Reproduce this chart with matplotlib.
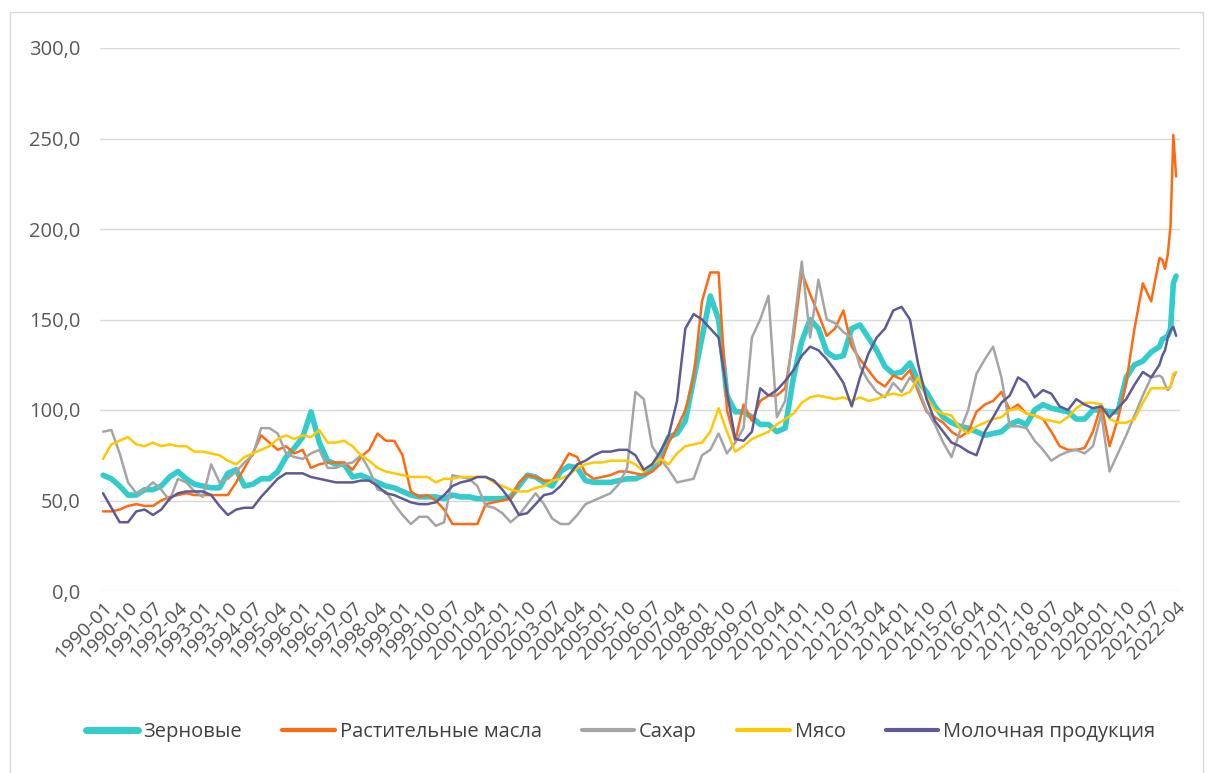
import matplotlib
matplotlib.use("Agg")
import matplotlib.pyplot as plt
from matplotlib.patches import Rectangle

# ---------------- data (FAO sub-indices) ----------------
# quarterly points 1990-01 .. 2021-10, then monthly 2021-11 .. 2022-04
q_years = list(range(1990, 2022))
q_months = [1, 4, 7, 10]
tail_dates = ["2021-11", "2021-12", "2022-01", "2022-02", "2022-03", "2022-04"]

cereals = [
    64, 62, 58, 53,  53, 56, 56, 58,  63, 66, 62, 59,  58, 57, 57, 65,
    67, 58, 59, 62,  62, 66, 74, 79,  85, 99, 82, 72,  70, 70, 63, 64,
    62, 60, 58, 57,  55, 53, 52, 52,  52, 51, 53, 52,  52, 51, 51, 51,
    51, 52, 58, 64,  63, 60, 58, 66,  69, 68, 61, 60,  60, 60, 61, 62,
    62, 64, 67, 75,  85, 87, 94, 117, 140, 163, 150, 108, 99, 99, 96, 92,
    92, 88, 90, 118, 138, 150, 145, 132, 129, 130, 145, 147, 140, 133, 124, 120,
    121, 126, 116, 110, 102, 96, 93, 91,  90, 88, 86, 87,  88, 92, 94, 92,
    100, 103, 101, 100, 99, 95, 95, 100, 100, 99, 99, 118, 125, 127, 132, 135,
    139, 140, 141, 145, 170, 174,
]
oils = [
    44, 44, 45, 47,  48, 47, 47, 50,  52, 53, 54, 53,  53, 53, 53, 53,
    60, 68, 76, 86,  82, 78, 80, 76,  78, 68, 70, 71,  71, 71, 67, 74,
    78, 87, 83, 83,  75, 55, 52, 53,  50, 45, 37, 37,  37, 37, 48, 49,
    50, 51, 60, 64,  63, 61, 61, 68,  76, 74, 65, 62,  63, 64, 66, 66,
    65, 64, 66, 70,  82, 90, 100, 118, 160, 176, 176, 100, 83, 103, 94, 105,
    108, 108, 112, 140, 176, 164, 153, 141, 145, 155, 135, 128, 122, 116, 113, 119,
    117, 122, 110, 99, 96, 93, 88, 85,  88, 99, 103, 105, 110, 100, 103, 98,
    97, 95, 88, 80,  78, 78, 79, 88,  103, 80, 95, 115, 145, 170, 160, 184,
    183, 178, 186, 202, 252, 229,
]
sugar = [
    88, 89, 76, 60,  54, 56, 60, 56,  50, 62, 60, 55,  52, 70, 60, 62,
    66, 71, 75, 90,  90, 87, 76, 74,  73, 76, 78, 68,  68, 70, 71, 75,
    67, 56, 55, 48,  42, 37, 41, 41,  36, 38, 64, 63,  62, 58, 47, 46,
    43, 38, 42, 48,  54, 48, 40, 37,  37, 42, 48, 50,  52, 54, 59, 68,
    110, 106, 80, 73, 67, 60, 61, 62,  75, 78, 87, 76,  82, 90, 140, 150,
    163, 96, 105, 145, 182, 140, 172, 150, 148, 143, 140, 124, 116, 110, 107, 115,
    110, 118, 112, 100, 92, 82, 74, 88, 100, 120, 128, 135, 118, 91, 91, 90,
    83, 78, 72, 75,  77, 78, 76, 80,  98, 66, 76, 86,  97, 108, 118, 119,
    118, 114, 111, 113, 118, 121,
]
meat = [
    73, 81, 83, 85,  81, 80, 82, 80,  81, 80, 80, 77,  77, 76, 75, 72,
    70, 74, 76, 78,  80, 84, 86, 84,  86, 85, 89, 82,  82, 83, 80, 75,
    72, 68, 66, 65,  64, 63, 63, 63,  60, 62, 62, 63,  63, 63, 63, 60,
    58, 56, 55, 55,  57, 58, 61, 62,  64, 68, 70, 71,  71, 72, 72, 72,
    70, 66, 70, 73,  70, 76, 80, 81,  82, 88, 101, 88, 77, 80, 84, 86,
    88, 92, 95, 98,  104, 107, 108, 107, 106, 107, 105, 107, 105, 106, 108, 109,
    108, 110, 118, 107, 100, 98, 97, 90, 87, 91, 93, 95,  96, 100, 101, 98,
    97, 95, 94, 93,  96, 101, 104, 104, 103, 95, 93, 93,  95, 104, 112, 112,
    112, 112, 112, 113, 120, 121,
]
dairy = [
    54, 46, 38, 38,  44, 45, 42, 45,  51, 54, 55, 55,  55, 53, 47, 42,
    45, 46, 46, 52,  57, 62, 65, 65,  65, 63, 62, 61,  60, 60, 60, 61,
    61, 58, 54, 53,  51, 49, 48, 48,  49, 53, 58, 60,  61, 63, 63, 61,
    56, 50, 42, 43,  48, 53, 54, 58,  64, 70, 72, 75,  77, 77, 78, 78,
    75, 67, 70, 77,  86, 105, 145, 153, 150, 145, 140, 110, 84, 83, 88, 112,
    108, 111, 116, 122, 130, 135, 133, 128, 122, 115, 102, 118, 131, 140, 145, 155,
    157, 150, 125, 106, 94, 88, 82, 80,  77, 75, 88, 96,  104, 108, 118, 115,
    107, 111, 109, 102, 100, 106, 103, 101, 102, 96, 101, 106, 114, 121, 118, 125,
    130, 133, 140, 144, 146, 141,
]

series_names = ["Зерновые", "Растительные масла", "Сахар", "Мясо", "Молочная продукция"]

tick_labels = [
    "1990-01", "1990-10", "1991-07", "1992-04", "1993-01", "1993-10", "1994-07",
    "1995-04", "1996-01", "1996-10", "1997-07", "1998-04", "1999-01", "1999-10",
    "2000-07", "2001-04", "2002-01", "2002-10", "2003-07", "2004-04", "2005-01",
    "2005-10", "2006-07", "2007-04", "2008-01", "2008-10", "2009-07", "2010-04",
    "2011-01", "2011-10", "2012-07", "2013-04", "2014-01", "2014-10", "2015-07",
    "2016-04", "2017-01", "2017-10", "2018-07", "2019-04", "2020-01", "2020-10",
    "2021-07", "2022-04",
]
y_ticks = [0, 50, 100, 150, 200, 250, 300]

# ---------------- helpers ----------------
def month_index(s):
    y, m = s.split("-")
    return (int(y) - 1990) * 12 + int(m) - 1

dates = [f"{y}-{m:02d}" for y in q_years for m in q_months] + tail_dates
xs = [month_index(d) for d in dates]
tick_pos = [month_index(t) for t in tick_labels]

plt.rcParams["font.family"] = ["Open Sans", "DejaVu Sans"]

fig = plt.figure(figsize=(12.10, 7.73), dpi=100)
fig.patches.append(Rectangle((10 / 1210, -0.01), 1193 / 1210, 1 - 12 / 773 + 0.01,
                             transform=fig.transFigure, fill=False,
                             edgecolor="#D9D9D9", linewidth=1.0))

ax = fig.add_axes([100 / 1210, 1 - 591 / 773, 1080 / 1210, (591 - 48) / 773])

colors = ["#33CCCC", "#FF6A10", "#A5A5A5", "#FFC800", "#5E5A96"]
widths = [4.0, 1.8, 1.8, 1.8, 1.8]
data = [cereals, oils, sugar, meat, dairy]
for vals, name, c, w in zip(data, series_names, colors, widths):
    ax.plot(xs, vals, color=c, linewidth=w, label=name,
            solid_joinstyle="round", solid_capstyle="round")

ax.set_ylim(0, 300)
ax.set_xlim(-1.1, 388.4)
ax.set_yticks(y_ticks)
ax.set_yticklabels([f"{v:.1f}".replace(".", ",") for v in y_ticks],
                   fontsize=14.5, color="#595959")
ax.set_xticks(tick_pos)
ax.set_xticklabels(tick_labels, rotation=45, ha="right", va="top",
                   rotation_mode="anchor", fontsize=14, color="#505050")
ax.tick_params(axis="both", length=0)
ax.tick_params(axis="y", pad=14)
ax.tick_params(axis="x", pad=5)
ax.grid(axis="y", color="#D9D9D9", linewidth=1.0)
ax.set_axisbelow(True)
for sp in ax.spines.values():
    sp.set_visible(False)

leg = fig.legend(loc="center", bbox_to_anchor=(0.513, 1 - 732 / 773), ncol=5,
                 frameon=False, fontsize=14.5, handlelength=2.6,
                 handletextpad=0.25, columnspacing=2.0)
for t in leg.get_texts():
    t.set_color("#404040")
for h, w in zip(leg.get_lines(), [5, 3, 3, 3, 3]):
    h.set_linewidth(w)

fig.savefig("out.png", dpi=100)
